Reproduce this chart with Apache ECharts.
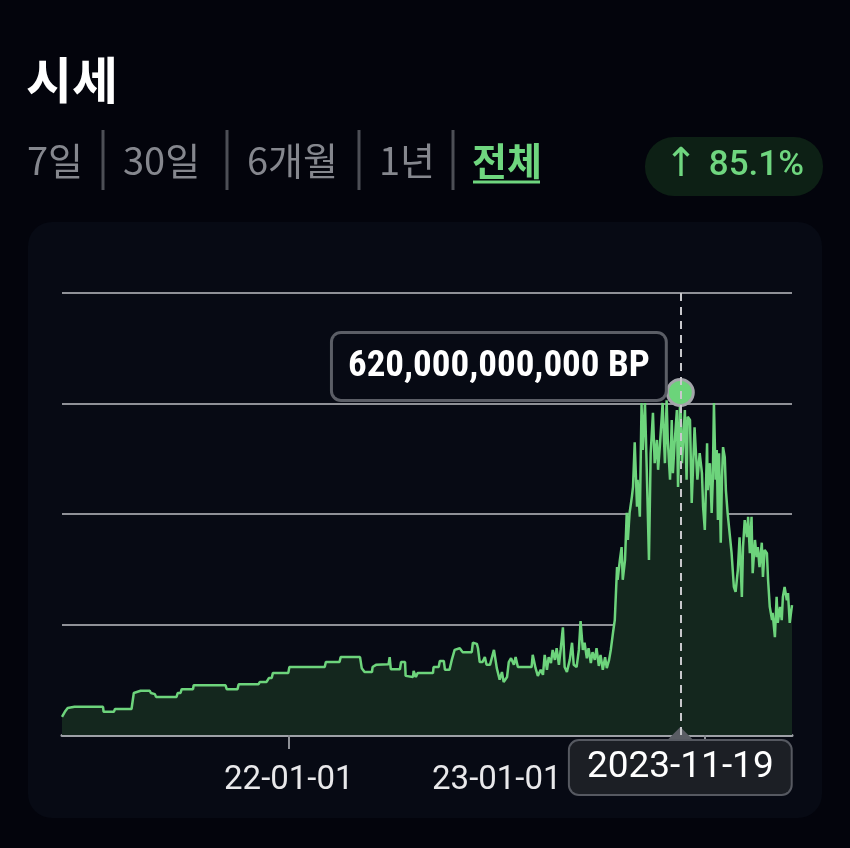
<!DOCTYPE html>
<html><head><meta charset="utf-8">
<script src="https://cdn.jsdelivr.net/npm/echarts@6/dist/echarts.min.js"></script>
<style>html,body{margin:0;padding:0;background:#03040c;}#c{width:850px;height:848px;}</style>
</head><body><div id="c"></div>
<script>
// ---------- data ----------
const dates = [
'2020-11-29','2020-12-04','2020-12-09','2020-12-21','2021-02-09','2021-02-10','2021-02-28','2021-03-02','2021-03-31','2021-04-04','2021-04-16','2021-05-02','2021-05-04','2021-05-11','2021-05-13','2021-06-18','2021-06-20','2021-06-25','2021-06-27','2021-07-17','2021-07-18','2021-09-12','2021-09-14','2021-10-03','2021-10-05','2021-11-09','2021-11-11','2021-11-23','2021-11-27','2021-12-02','2021-12-04','2021-12-31',
'2022-01-02','2022-03-05','2022-03-07','2022-03-31','2022-04-02','2022-05-06','2022-05-09','2022-05-14','2022-05-27','2022-05-28','2022-06-03','2022-06-04','2022-06-25','2022-06-27','2022-06-29','2022-07-15','2022-07-17','2022-07-24','2022-07-25','2022-08-07','2022-08-08','2022-08-12','2022-08-15','2022-09-11','2022-09-12','2022-09-21','2022-09-23','2022-09-30','2022-10-02','2022-10-10','2022-10-14','2022-10-19','2022-10-28','2022-11-02','2022-11-18','2022-11-20','2022-11-27','2022-11-29','2022-12-02','2022-12-07','2022-12-11','2022-12-14','2022-12-20','2022-12-27',
'2023-01-01','2023-01-06','2023-01-10','2023-01-13','2023-01-19','2023-01-22','2023-01-26','2023-01-31','2023-02-03','2023-02-07','2023-03-03','2023-03-05','2023-03-10','2023-03-14','2023-03-19','2023-03-23','2023-03-26','2023-03-30','2023-04-02','2023-04-06','2023-04-09','2023-04-13','2023-04-16','2023-04-20','2023-04-23','2023-04-27','2023-04-30','2023-05-04','2023-05-09','2023-05-13','2023-05-16','2023-05-21','2023-05-25','2023-05-28','2023-06-01','2023-06-04','2023-06-08','2023-06-11','2023-06-15','2023-06-18','2023-06-22','2023-06-25','2023-06-29','2023-07-02','2023-07-06','2023-07-10','2023-07-13','2023-07-17','2023-07-20','2023-07-24','2023-07-27','2023-07-31','2023-08-01','2023-08-05','2023-08-08','2023-08-10','2023-08-14','2023-08-17','2023-08-19','2023-08-22','2023-08-26','2023-08-28','2023-08-31','2023-09-04','2023-09-05','2023-09-09','2023-09-12','2023-09-14','2023-09-18','2023-09-21','2023-09-25','2023-09-28','2023-10-02','2023-10-05','2023-10-09','2023-10-11','2023-10-14','2023-10-19','2023-10-23','2023-10-26','2023-10-28','2023-11-01','2023-11-04','2023-11-06','2023-11-09','2023-11-13','2023-11-15','2023-11-19','2023-11-22','2023-11-27','2023-11-30','2023-12-02','2023-12-06','2023-12-09','2023-12-14','2023-12-19','2023-12-23','2023-12-27','2023-12-29',
'2024-01-01','2024-01-05','2024-01-06','2024-01-10','2024-01-13','2024-01-15','2024-01-17','2024-01-20','2024-01-22','2024-01-24','2024-01-26','2024-01-29','2024-01-31','2024-02-02','2024-02-05','2024-02-07','2024-02-10','2024-02-17','2024-02-21','2024-02-24','2024-02-28','2024-03-02','2024-03-06','2024-03-08','2024-03-11','2024-03-15','2024-03-17','2024-03-20','2024-03-23','2024-03-25','2024-03-29','2024-04-01','2024-04-03','2024-04-06','2024-04-10','2024-04-12','2024-04-15','2024-04-19','2024-04-21','2024-04-24','2024-04-28','2024-04-29','2024-05-03','2024-05-06','2024-05-08','2024-05-12','2024-05-15','2024-05-17','2024-05-20','2024-05-24','2024-05-26','2024-05-29','2024-06-02'
];
// values in billions of BP
const valuesBillionBP = [
33,42,49,51,51,42,42,47,47,76,80,80,76,74,69,69,76,76,83,83,90,90,83,83,92,92,96,96,103,103,112,112,
123,123,132,132,141,141,121,114,114,123,127,128,128,141,119,119,132,132,107,105,116,105,112,112,123,123,134,134,118,118,136,154,157,150,150,167,165,157,132,132,141,127,127,154,
121,100,114,96,105,132,139,127,141,123,123,145,121,107,118,109,145,118,141,130,154,136,157,127,154,195,123,114,136,167,127,123,154,206,154,167,139,157,130,150,136,157,125,145,118,141,121,136,154,186,208,304,281,317,340,281,317,402,353,402,431,449,530,413,462,395,601,516,601,485,317,510,583,492,534,480,521,601,492,606,534,462,570,474,528,588,449,620,492,588,462,576,570,420,557,462,510,474,413,
371,528,443,492,402,462,601,462,516,389,510,348,462,521,503,443,402,329,268,259,299,358,250,340,389,358,395,329,395,293,353,322,340,304,348,286,335,329,281,232,208,221,177,250,203,232,208,250,268,244,257,203,235
];
const xTickDates = ['2022-01-01','2023-01-01','2024-01-01'];
const xLabelDates = ['2022-01-01','2023-01-01'];
const yMin = 0, yMax = 800, yInterval = 200; // billions
const hoverDate = '2023-11-19';
const hoverValueBillion = 620;
const titleText = '시세';
const tabs = ['7일','30일','6개월','1년','전체'];
const activeTab = '전체';
const changeArrow = '↑';
const changeText = '85.1%';

// ---------- layout ----------
const tabX = [27, 123, 247, 379, 472];
const sepX = [103, 227, 359, 453];
const GREEN = '#6fd67f';

const ts = s => new Date(s + 'T00:00:00').getTime();
const chart = echarts.init(document.getElementById('c'), null, {renderer: 'canvas'});
const seriesData = dates.map((d, i) => [ts(d), valuesBillionBP[i]]);

const graphics = [
  {type: 'rect', z: -10, shape: {x: 28, y: 222, width: 794, height: 596, r: 24}, style: {fill: '#070a14'}},
  {type: 'text', x: 26, y: 80, style: {text: titleText, fill: '#ffffff', fontSize: 50, fontWeight: 'bold', fontFamily: '"Noto Sans CJK KR"', verticalAlign: 'middle', align: 'left'}},
];
tabs.forEach((t, i) => {
  graphics.push({type: 'text', x: tabX[i], y: 161, style: {text: t, fill: t === activeTab ? GREEN : '#85878e', fontSize: 38, fontWeight: t === activeTab ? 'bold' : 'normal', fontFamily: '"Noto Sans CJK KR"', verticalAlign: 'middle', align: 'left'}});
});
sepX.forEach(x => graphics.push({type: 'line', shape: {x1: x, y1: 130, x2: x, y2: 190}, style: {stroke: '#4d4f56', lineWidth: 3}}));
graphics.push({type: 'line', shape: {x1: 473, y1: 182, x2: 540, y2: 182}, style: {stroke: GREEN, lineWidth: 3}});
graphics.push({type: 'rect', shape: {x: 645, y: 137, width: 178, height: 59, r: 29}, style: {fill: '#0d2015'}});
graphics.push({type: 'text', x: 681, y: 166, style: {text: changeArrow, fill: GREEN, fontSize: 40, fontWeight: 'normal', fontFamily: '"DejaVu Sans"', verticalAlign: 'middle', align: 'center'}});
graphics.push({type: 'text', x: 804, y: 166, style: {text: changeText, fill: GREEN, fontSize: 35, fontWeight: 500, fontFamily: 'Roboto', verticalAlign: 'middle', align: 'right'}});

const option = {
  backgroundColor: '#03040c',
  animation: false,
  graphic: {elements: graphics},
  grid: {left: 62, right: 58, top: 293, bottom: 113},
  xAxis: {
    type: 'time',
    min: ts(dates[0]),
    max: ts(dates[dates.length - 1]),
    axisLine: {show: true, lineStyle: {color: '#9ea1a7', width: 3}},
    axisTick: {show: true, length: 14, lineStyle: {color: '#8d9096', width: 2}, customValues: xTickDates.map(ts)},
    axisLabel: {customValues: xLabelDates.map(ts), formatter: '{yy}-{MM}-{dd}', color: '#e8e8ea', fontSize: 33, margin: 29, fontFamily: 'Roboto'},
    splitLine: {show: false},
    axisPointer: {
      show: true, type: 'line', value: ts(hoverDate), status: 'show', snap: false, triggerTooltip: false,
      lineStyle: {color: '#c8c8cc', width: 2, type: [8, 6]},
      label: {
        show: true, margin: 6,
        formatter: p => echarts.time.format(p.value, '{yyyy}-{MM}-{dd}', false),
        backgroundColor: '#1c1f25', borderColor: '#565961', borderWidth: 2, borderRadius: 9,
        padding: [8, 17, 8, 17], color: '#ffffff', fontSize: 37, fontFamily: 'Roboto'
      }
    }
  },
  yAxis: {
    type: 'value', min: yMin, max: yMax, interval: yInterval,
    axisLabel: {show: false}, axisLine: {show: false}, axisTick: {show: false},
    splitLine: {show: true, lineStyle: {color: '#8f9197', width: 2}}
  },
  series: [{
    type: 'line',
    data: seriesData,
    showSymbol: false,
    symbol: 'none',
    lineStyle: {color: '#6dd47c', width: 2.5},
    areaStyle: {color: '#14271e', opacity: 1},
    markPoint: {
      animation: false,
      data: [
        {coord: [ts(hoverDate), yMin], symbol: 'triangle', symbolSize: [24, 12], symbolOffset: [0, -2],
         itemStyle: {color: '#5a5d64'}, label: {show: false}},
        {coord: [ts(hoverDate), hoverValueBillion], symbol: 'circle', symbolSize: 26,
         itemStyle: {color: '#6bd47a', borderColor: '#a3a5aa', borderWidth: 3},
         label: {
           show: true, position: 'left', distance: 1, offset: [0, -26],
           formatter: () => (hoverValueBillion * 1e9).toLocaleString('en-US') + ' BP',
           backgroundColor: '#070a14', borderColor: '#5b5e66', borderWidth: 3, borderRadius: 8,
           padding: [15, 15, 13, 15], color: '#ffffff', fontSize: 37, fontWeight: 'bold',
           fontFamily: '"Roboto Condensed", Roboto'
         }}
      ]
    }
  }]
};
chart.setOption(option);
</script></body></html>
